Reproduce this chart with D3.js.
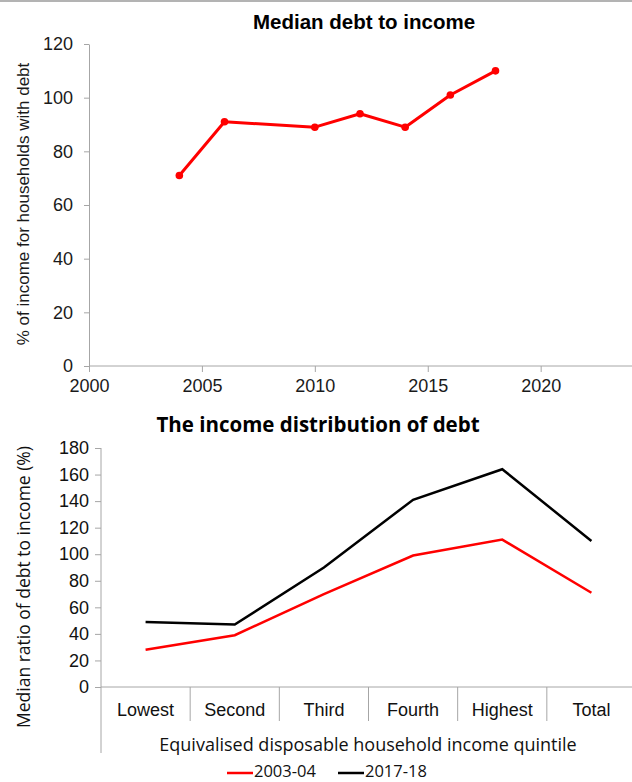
<!DOCTYPE html>
<html>
<head>
<meta charset="utf-8">
<script src="https://cdn.jsdelivr.net/npm/d3@7"></script>
<style>
    body { margin: 0; background: #fff; }
    svg { display: block; }
</style>
</head>
<body>
<svg id="chart" width="632" height="782"></svg>
<script>
// --- data: top panel ---
const years = [2004, 2006, 2010, 2012, 2014, 2016, 2018];
const medianDebt = [71, 91, 89, 94, 89, 101, 110];
const topYTicks = [0, 20, 40, 60, 80, 100, 120];
const topXTicks = [2000, 2005, 2010, 2015, 2020];

// --- data: bottom panel ---
const quintiles = ["Lowest", "Second", "Third", "Fourth", "Highest", "Total"];
const ratio0304 = [28, 39, 70, 99, 111, 71];
const ratio1718 = [49, 47, 90, 141, 164, 110];
const bottomYTicks = [0, 20, 40, 60, 80, 100, 120, 140, 160, 180];
const seriesNames = ["2003-04", "2017-18"];

const svg = d3.select('#chart');
const axisColor = '#a6a6a6';

// top grey rule
svg.append('rect').attr('x', 0).attr('y', 0).attr('width', 632).attr('height', 2).attr('fill', '#b3b3b3');

//----------------------------//
//         TOP PANEL          //
//----------------------------//
function plotTop() {
    const x = d3.scaleLinear().domain([2000, 2024]).range([89, 631]);
    const y = d3.scaleLinear().domain([0, 120]).range([366, 44]);
    const g = svg.append('g').style('font-family', '"Liberation Sans", Arial, sans-serif');

    const xAxis = g.append('g')
        .attr('transform', 'translate(0,366)')
        .call(d3.axisBottom(x).tickValues(topXTicks).tickFormat(d3.format('d')).tickSize(6).tickSizeOuter(0));
    xAxis.select('.domain').attr('d', `M${x(2000)},0H632`);

    const yAxis = g.append('g')
        .attr('transform', 'translate(89,0)')
        .call(d3.axisLeft(y).tickValues(topYTicks).tickSize(5).tickSizeOuter(0).tickPadding(11));

    [xAxis, yAxis].forEach(a => {
        a.select('.domain').attr('stroke', axisColor);
        a.selectAll('.tick line').attr('stroke', axisColor);
        a.selectAll('.tick text').attr('fill', '#1a1a1a').style('font-size', '18px');
    });
    xAxis.selectAll('.tick text').attr('dy', '0.95em');

    g.append('text')
        .attr('x', 364).attr('y', 29)
        .attr('text-anchor', 'middle')
        .style('font-size', '20.5px').style('font-weight', 'bold')
        .text('Median debt to income');

    g.append('text')
        .attr('transform', 'translate(29,204) rotate(-90)')
        .attr('text-anchor', 'middle')
        .attr('fill', '#1a1a1a')
        .style('font-size', '17px')
        .text('% of income for households with debt');

    const line = d3.line().x((d, i) => x(years[i])).y(d => y(d));
    g.append('path')
        .datum(medianDebt)
        .attr('fill', 'none')
        .attr('stroke', '#ff0000')
        .attr('stroke-width', 3)
        .attr('stroke-linejoin', 'round')
        .attr('d', line);

    g.selectAll('.dot')
        .data(medianDebt)
        .enter()
        .append('circle')
        .attr('cx', (d, i) => x(years[i]))
        .attr('cy', d => y(d))
        .attr('r', 3.8)
        .attr('fill', '#ff0000');
}

//----------------------------//
//        BOTTOM PANEL        //
//----------------------------//
function plotBottom() {
    const x = d3.scaleBand().domain(quintiles).range([101, 636]).padding(0);
    const y = d3.scaleLinear().domain([0, 180]).range([687, 448]);
    const g = svg.append('g').style('font-family', '"Open Sans", sans-serif');

    const yAxis = g.append('g')
        .attr('transform', 'translate(101,0)')
        .call(d3.axisLeft(y).tickValues(bottomYTicks).tickSize(6).tickSizeOuter(0).tickPadding(6));
    yAxis.select('.domain').attr('d', 'M0,448V753');

    const xAxis = g.append('g')
        .attr('transform', 'translate(0,687)')
        .call(d3.axisBottom(x).tickSize(0).tickSizeOuter(0));
    xAxis.select('.domain').attr('d', 'M101,0H632');
    xAxis.selectAll('.tick text').attr('dy', '1.45em');

    // category separators
    g.selectAll('.sep')
        .data(quintiles.slice(1))
        .enter()
        .append('line')
        .attr('x1', d => x(d)).attr('x2', d => x(d))
        .attr('y1', 687).attr('y2', 721)
        .attr('stroke', axisColor);

    [xAxis, yAxis].forEach(a => {
        a.select('.domain').attr('stroke', axisColor);
        a.selectAll('.tick line').attr('stroke', axisColor);
        a.selectAll('.tick text').attr('fill', '#111').style('font-size', '18px');
    });

    g.append('text')
        .attr('x', 318).attr('y', 432)
        .attr('text-anchor', 'middle')
        .style('font-size', '20.5px').style('font-weight', 'bold')
        .text('The income distribution of debt');

    g.append('text')
        .attr('transform', 'translate(30,587) rotate(-90)')
        .attr('text-anchor', 'middle')
        .attr('fill', '#111')
        .style('font-size', '17.5px')
        .text('Median ratio of debt to income (%)');

    g.append('text')
        .attr('x', 368).attr('y', 751)
        .attr('text-anchor', 'middle')
        .attr('fill', '#111')
        .style('font-size', '18px')
        .text('Equivalised disposable household income quintile');

    const line = d3.line()
        .x((d, i) => x(quintiles[i]) + x.bandwidth() / 2)
        .y(d => y(d));

    const series = [ratio0304, ratio1718];
    const colors = ['#ff0000', '#000000'];
    series.forEach((s, k) => {
        g.append('path')
            .datum(s)
            .attr('fill', 'none')
            .attr('stroke', colors[k])
            .attr('stroke-width', 2.5)
            .attr('d', line);
    });

    // legend
    const legendX = [227, 338];
    seriesNames.forEach((name, k) => {
        g.append('line')
            .attr('x1', legendX[k]).attr('x2', legendX[k] + 26)
            .attr('y1', 773).attr('y2', 773)
            .attr('stroke', colors[k]).attr('stroke-width', 2.5);
        g.append('text')
            .attr('x', legendX[k] + 27).attr('y', 777)
            .attr('fill', '#111')
            .style('font-size', '16.5px')
            .text(name);
    });
}

plotTop();
plotBottom();
</script>
</body>
</html>
